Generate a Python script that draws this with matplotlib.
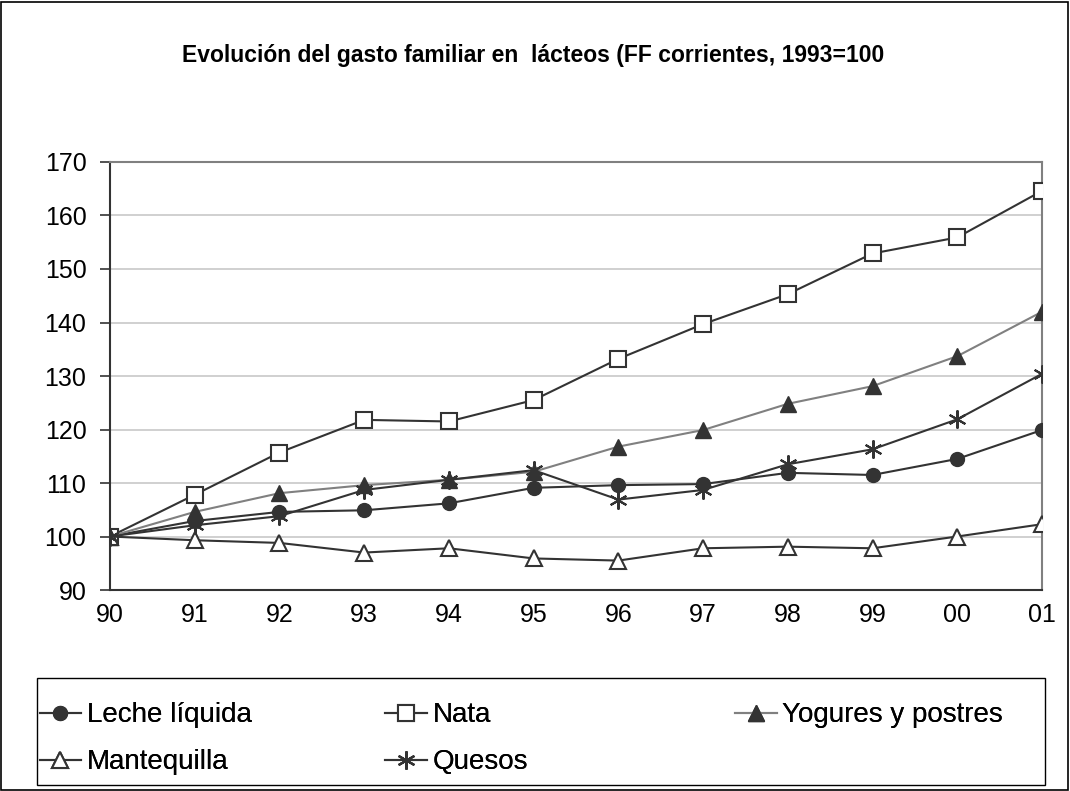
import matplotlib
matplotlib.use("Agg")
import matplotlib.pyplot as plt
from matplotlib.patches import Rectangle

plt.rcParams['font.family'] = ['Liberation Sans', 'DejaVu Sans']

years = ["90", "91", "92", "93", "94", "95", "96", "97", "98", "99", "00", "01"]
leche = [100, 102.9, 104.6, 104.9, 106.2, 109.1, 109.6, 109.8, 111.9, 111.5, 114.5, 119.9]
nata = [100, 107.8, 115.7, 121.8, 121.5, 125.5, 133.2, 139.7, 145.3, 152.9, 155.9, 164.6]
yogures = [100, 104.6, 108.1, 109.6, 110.6, 112.1, 116.8, 119.9, 124.8, 128.1, 133.7, 142.0]
mantequilla = [100, 99.3, 98.8, 97.0, 97.8, 95.9, 95.5, 97.8, 98.1, 97.8, 100.0, 102.3]
quesos = [100, 102.1, 103.8, 108.7, 110.6, 112.4, 106.9, 108.7, 113.5, 116.3, 121.9, 130.4]

dark = "#333333"
x = list(range(len(years)))

fig = plt.figure(figsize=(10.7, 7.91), dpi=100)
ax = fig.add_axes([0.1028, 0.2541, 0.871, 0.5411])

l1, = ax.plot(x, leche, color=dark, lw=1.5, marker="o", ms=10, mfc=dark, mec=dark, label="Leche líquida", zorder=3)
l2, = ax.plot(x, nata, color=dark, lw=1.5, marker="s", ms=12, mfc="white", mec=dark, mew=1.5, label="Nata", zorder=3)
l3, = ax.plot(x, yogures, color="#808080", lw=1.5, marker="^", ms=11, mfc=dark, mec=dark, label="Yogures y postres", zorder=3)
l4, = ax.plot(x, mantequilla, color=dark, lw=1.5, marker="^", ms=11, mfc="white", mec=dark, mew=1.5, label="Mantequilla", zorder=3)
l5, = ax.plot(x, quesos, color=dark, lw=1.5, marker=(6, 2, 0), ms=13, mec=dark, mew=1.5, label="Quesos", zorder=3)

ax.set_xlim(0, len(years) - 1)
ax.set_ylim(90, 170)
ax.set_yticks(range(90, 171, 10))
ax.set_xticks(x)
ax.set_xticklabels(years)
ax.set_xticks(x[::2], minor=True)
ax.tick_params(axis="x", which="major", length=0, pad=9, labelsize=18)
ax.tick_params(axis="x", which="minor", length=7, width=1.2, color=dark, direction="out")
ax.tick_params(axis="y", length=7, width=1.2, color=dark, labelsize=18, pad=10)
ax.grid(axis="y", color="#c8c8c8", lw=1.2)
ax.grid(axis="x", which="minor", color="#c8c8c8", lw=1.2)
ax.set_axisbelow(True)
for s in ["left", "bottom"]:
    ax.spines[s].set_color(dark)
    ax.spines[s].set_linewidth(1.5)
for s in ["top", "right"]:
    ax.spines[s].set_color("#808080")
    ax.spines[s].set_linewidth(1.5)

fig.text(0.498, 0.93, "Evolución del gasto familiar en  lácteos (FF corrientes, 1993=100",
         ha="center", va="center", fontsize=16.5, fontweight="bold")

# legend: three columns placed by hand, one box around them
leg_kw = dict(fontsize=20, frameon=False, handlelength=1.5, handletextpad=0.2,
              borderaxespad=0, borderpad=0, labelspacing=0.75)
columns = [([l1, l4], 0.037), ([l2, l5], 0.360), ([l3], 0.687)]
for hs, x0 in columns:
    leg = fig.legend(handles=hs, loc="upper left", bbox_to_anchor=(x0, 0.112), **leg_kw)
    fig.add_artist(leg)

fig.patches.append(Rectangle((0.0346, 0.0076), 0.942, 0.135, transform=fig.transFigure,
                             fill=False, edgecolor="black", lw=1.0))
fig.patches.append(Rectangle((0.001, 0.001), 0.997, 0.997, transform=fig.transFigure,
                             fill=False, edgecolor="black", lw=1.2))

fig.savefig("out.png", dpi=100)
